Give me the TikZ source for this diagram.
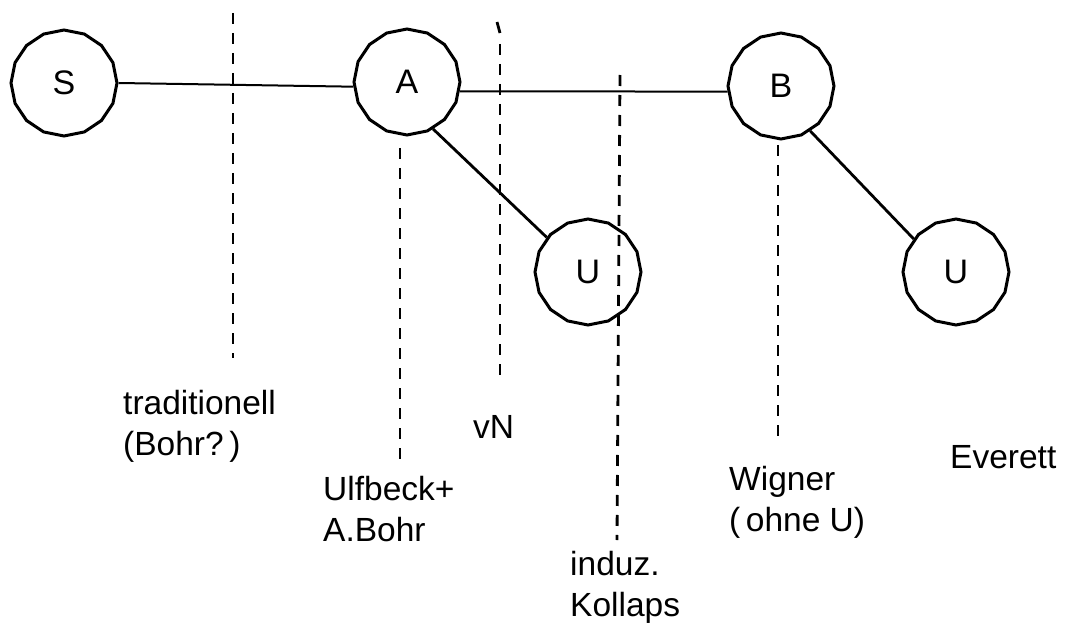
\documentclass[tikz,border=0pt]{standalone}
\usepackage{fontspec}
\setmainfont{Liberation Sans}
\usetikzlibrary{shapes.geometric}
\begin{document}
\begin{tikzpicture}[x=1pt,y=-1pt,
  obj/.style={draw, line width=3pt, regular polygon, regular polygon sides=16,
    minimum size=106pt, inner sep=0pt, shape border rotate=11.25,
    font=\fontsize{34}{41}\selectfont},
  link/.style={line width=2.8pt},
  thinlink/.style={line width=2pt},
  cut/.style={line width=2.8pt, dash pattern=on 11pt off 9pt},
  lbl/.style={font=\fontsize{33.5}{41}\selectfont, align=left, inner sep=0pt, anchor=base west}]
\useasboundingbox (0,0) rectangle (1066,623);

% objects
\node[obj] (S)  at (64,83)   {S};
\node[obj] (A)  at (407,82)  {A};
\node[obj] (B)  at (781,86)  {B};
\node[obj] (U1) at (588,272) {U};
\node[obj] (U2) at (956,272) {U};

% connectors
\draw[thinlink] (S.0) -- (A.185);
\draw[thinlink] (A.-10) -- (B.186);
\draw[link] (A.-61) -- (U1.140);
\draw[link] (B.-57) -- (U2.142);

% cuts
\coordinate (c1t) at (233,13);  \coordinate (c1b) at (233,358);
\coordinate (c2t) at (400,148); \coordinate (c2b) at (400,462);
\coordinate (c3t) at (500,44);  \coordinate (c3b) at (500,380);
\coordinate (c4t) at (620,75);  \coordinate (c4b) at (617,540);
\coordinate (c5t) at (778,145); \coordinate (c5b) at (778,437);
\draw[cut] (c1t) -- (c1b);
\draw[cut] (c2t) -- (c2b);
\draw[cut] (c3t) -- (c3b);
\draw[line width=2.8pt] (497,22) -- (500,33);
\draw[cut] (c4t) -- (c4b);
\draw[cut] (c5t) -- (c5b);

% labels (anchor is the baseline of the last line)
\node[lbl] (l1) at (123,455) {traditionell\\(Bohr?\,)};
\node[lbl] (l2) at (473,438) {vN};
\node[lbl] (l3) at (323,541) {Ulfbeck+\\A.Bohr};
\node[lbl] (l4) at (570,616) {induz.\\Kollaps};
\node[lbl] (l5) at (729,531) {Wigner\\(\,ohne U)};
\node[lbl] (l6) at (950,468) {Everett};
\end{tikzpicture}
\end{document}
